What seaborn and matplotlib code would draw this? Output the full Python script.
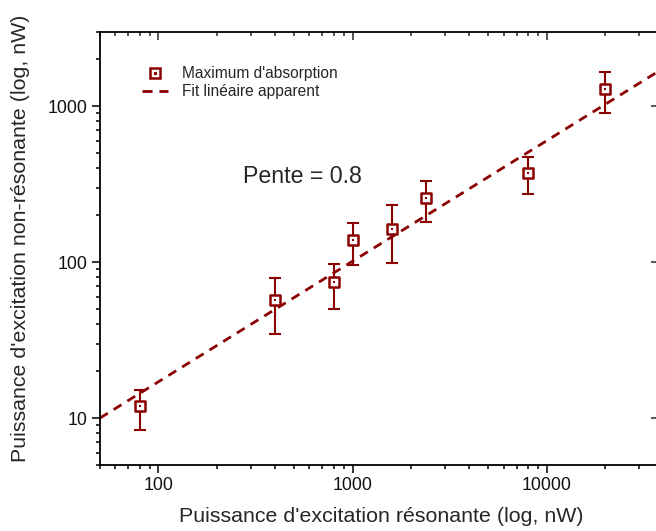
import numpy as np
import pandas as pd
import seaborn as sns
import matplotlib.pyplot as plt
from matplotlib.lines import Line2D
from matplotlib.ticker import LogLocator, NullFormatter

# measured points (nW)
power_res = [80, 400, 800, 1000, 1600, 2400, 8000, 20000]
power_nonres = [12, 57, 74, 138, 164, 257, 374, 1280]
err_low = [8.4, 34.4, 49.8, 96, 98, 180, 275, 898]
err_high = [15.1, 79.5, 97.7, 179, 231, 330, 471, 1660]

# apparent linear fit (end points)
fit_x = [50, 37000]
fit_y = [10, 1650]

color = "#8B0000"

df = pd.DataFrame({"x": power_res, "y": power_nonres})
fit_df = pd.DataFrame({"x": fit_x, "y": fit_y})

sns.set_theme(style="ticks")
plt.rcParams["font.family"] = ["Liberation Sans", "DejaVu Sans"]

fig = plt.figure(figsize=(6.56, 5.31), dpi=100)
ax = fig.add_axes([100 / 656, 1 - 465 / 531, 557 / 656, (465 - 31.7) / 531])

sns.lineplot(data=fit_df, x="x", y="y", ax=ax, color=color, lw=2,
             dashes=False, zorder=2)
ax.lines[-1].set_dashes([3.3, 2.5])

yerr = [np.array(power_nonres) - np.array(err_low),
        np.array(err_high) - np.array(power_nonres)]
ax.errorbar(power_res, power_nonres, yerr=yerr, fmt="none", ecolor=color,
            elinewidth=1.5, capsize=4.5, capthick=1.5, zorder=3)
sns.scatterplot(data=df, x="x", y="y", ax=ax, marker="s", s=45,
                facecolor="white", edgecolor=color, linewidth=1.8, zorder=4)
sns.scatterplot(data=df, x="x", y="y", ax=ax, marker="s", s=2,
                color=color, linewidth=0, zorder=5)

ax.set_xscale("log")
ax.set_yscale("log")
ax.set_xlim(50, 37000)
ax.set_ylim(5, 3000)
ax.set_xticks([100, 1000, 10000])
ax.set_xticklabels(["100", "1000", "10000"])
ax.set_yticks([10, 100, 1000])
ax.set_yticklabels(["10", "100", "1000"])
ax.xaxis.set_minor_locator(LogLocator(base=10, subs=np.arange(2, 10)))
ax.yaxis.set_minor_locator(LogLocator(base=10, subs=np.arange(2, 10)))
ax.xaxis.set_minor_formatter(NullFormatter())
ax.yaxis.set_minor_formatter(NullFormatter())

for sp in ax.spines.values():
    sp.set_visible(True)
    sp.set_linewidth(1.3)
    sp.set_color("black")

ax.tick_params(which="both", direction="out", width=1.1, color="black",
               labelsize=12.8, labelcolor="#111111")
ax.tick_params(which="major", length=5.5)
ax.tick_params(which="minor", length=3)

# inward ticks on top and right
top = ax.secondary_xaxis("top")
top.set_xticks([100, 1000, 10000])
top.xaxis.set_minor_locator(LogLocator(base=10, subs=np.arange(2, 10)))
top.xaxis.set_minor_formatter(NullFormatter())
top.tick_params(which="both", direction="in", labeltop=False, width=1.1)
top.tick_params(which="major", length=5.5)
top.tick_params(which="minor", length=3)
top.spines["top"].set_visible(False)
right = ax.secondary_yaxis("right")
right.set_yticks([10, 100, 1000])
right.yaxis.set_minor_locator(LogLocator(base=10, subs=[]))
right.tick_params(which="both", direction="in", labelright=False, width=1.1,
                  length=4)
right.spines["right"].set_visible(False)

ax.set_xlabel("Puissance d'excitation résonante (log, nW)", fontsize=15.4)
ax.set_ylabel("Puissance d'excitation non-résonante (log, nW)", fontsize=15.4)
ax.xaxis.set_label_coords(0.505, -0.097)
ax.yaxis.set_label_coords(-0.126, 0.524)

ax.text(0.363, 0.665, "Pente = 0.8", transform=ax.transAxes, fontsize=16.7,
        ha="center", va="center")

h_pts = (Line2D([], [], ls="none", marker="s", ms=6.5, mfc="white", mec=color,
                mew=1.8),
         Line2D([], [], ls="none", marker="s", ms=1.3, color=color))
h_fit = Line2D([], [], color=color, lw=2, dashes=[3.6, 2.5])
ax.legend([h_pts, h_fit], ["Maximum d'absorption", "Fit linéaire apparent"],
          loc="upper left", bbox_to_anchor=(0.0496, 0.953), frameon=False,
          fontsize=11.2, handlelength=1.7, handletextpad=0.9,
          labelspacing=0.22)

fig.savefig("out.png", dpi=100)
